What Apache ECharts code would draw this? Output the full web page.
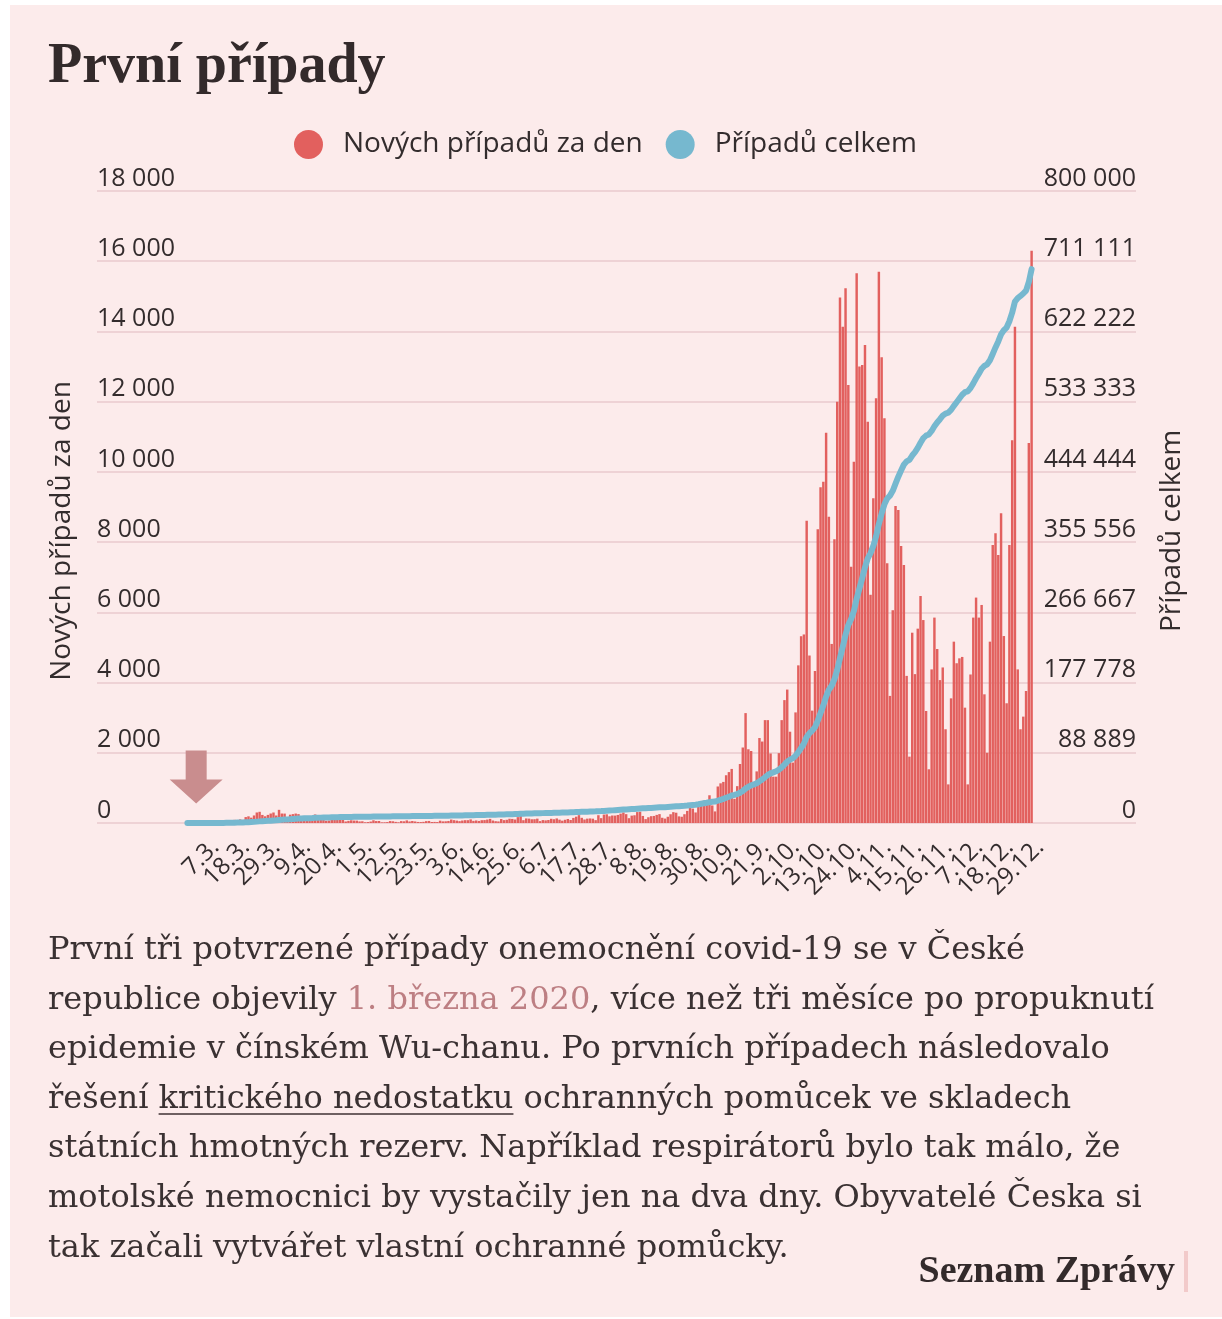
<!DOCTYPE html>
<html>
<head>
<meta charset="utf-8">
<script src="https://cdn.jsdelivr.net/npm/echarts/dist/echarts.min.js"></script>
<style>
html,body{margin:0;padding:0;background:#ffffff;width:1222px;height:1319px;overflow:hidden}
#panel{position:absolute;left:10px;top:5px;width:1212px;height:1312px;background:#fcebeb}
#chart{position:absolute;left:0;top:0;width:1222px;height:1319px}
#title{position:absolute;left:48px;top:35px;margin:0;font:bold 56px/56px "Liberation Serif";color:#332a2b;white-space:nowrap;z-index:2}
#body{position:absolute;left:48px;top:924px;font:32px/49.6px "DejaVu Serif";color:#3a3132;white-space:nowrap;z-index:2}
#body .lnk{color:#bd7f83}
#body .u{text-decoration:underline;text-decoration-thickness:2px;text-underline-offset:5px;text-decoration-color:#6e5f61}
#logo{position:absolute;right:47px;top:1250px;font:bold 38px/38px "Liberation Serif";color:#332a2b;white-space:nowrap;z-index:2}
#logobar{position:absolute;left:1184px;top:1251px;width:4px;height:41px;background:#f2caca;z-index:2}
</style>
</head>
<body>
<div id="panel"></div>
<div id="chart"></div>
<h1 id="title">První případy</h1>
<div id="body">První tři potvrzené případy onemocnění covid-19 se v České<br>republice objevily <span class="lnk">1. března 2020</span>, více než tři měsíce po propuknutí<br>epidemie v čínském Wu-chanu. Po prvních případech následovalo<br>řešení <span class="u">kritického nedostatku</span> ochranných pomůcek ve skladech<br>státních hmotných rezerv. Například respirátorů bylo tak málo, že<br>motolské nemocnici by vystačily jen na dva dny. Obyvatelé Česka si<br>tak začali vytvářet vlastní ochranné pomůcky.</div>
<div id="logo">Seznam Zprávy</div>
<div id="logobar"></div>
<script>
// ---- data ----
const startDate = [2020, 1, 29];          // 29. 2. 2020 (first category)
const dayCount = 305;                      // through 29. 12. 2020
const seriesNames = ['Nových případů za den', 'Případů celkem'];
const leftTitle = 'Nových případů za den';
const rightTitle = 'Případů celkem';
const leftMax = 18000, leftStep = 2000;
const rightMax = 800000, rightSteps = 9;

// daily new cases
const casesMar = [0,3,0,2,0,3,7,7,6,9,23,24,22,47,38,64,86,90,83,103,88,169,190,152,215,300,319,230,191,231,270];
const casesApr = [299,214,375,270,268,155,238,253,269,253,191,150,97,150,123,243,171,112,102,64,71,103,95,100,108,89,43,61,77,69];
const casesMay = [67,45,49,21,27,41,77,55,57,18,20,26,55,49,32,20,54,49,74,44,57,44,30,27,33,53,58,28,31,27,66];
const casesJun = [46,49,58,98,81,68,53,70,80,80,102,61,72,59,80,83,97,117,71,52,45,112,82,92,121,116,99,167,260,80];
const casesJul = [130,125,106,108,124,54,83,75,86,120,107,130,95,66,92,114,85,145,180,224,148,100,124,130,123,81,222,138,240,248,191];
const casesAug = [213,211,229,267,300,252,137,210,220,311,321,201,111,163,194,201,231,253,149,126,178,249,309,293,189,178,250,345,440,410,300];
const casesSep = [500,590,640,650,790,500,330,1040,1130,1170,1360,1450,1540,690,1050,1680,2150,3130,2100,2050,1030,1470,2420,2320,2930,2930,1980,1320,1320,1990];
const casesOct = [2930,3500,3800,2600,1720,3150,4490,5320,5370,8610,4770,3200,4330,8365,9560,9720,11115,8720,5100,8080,12000,14970,14135,15230,12475,7300,10290,15655,13000,13045,13615];
const casesNov = [11430,6500,9250,12095,15700,13265,11525,7400,3620,6060,9030,8915,7890,7350,4190,1890,5420,4240,5535,6465,5780,3190,1530,4375,5850,4955,4070,4430,2670,1100];
const casesDec = [3550,5165,4550,4690,4730,3285,1100,4230,5850,6420,5850,6210,3665,2000,5165,7920,8250,7630,8820,5325,3410,7920,10900,14135,4375,2670,3030,3760,10820,16300];

const newCases = [].concat(casesMar, casesApr, casesMay, casesJun, casesJul, casesAug, casesSep, casesOct, casesNov, casesDec);

// categories (consecutive days)
const dates = [];
for (let i = 0; i < dayCount; i++) {
  const d = new Date(startDate[0], startDate[1], startDate[2] + i);
  dates.push(d.getDate() + '.' + (d.getMonth() + 1) + '.');
}
// cumulative total = running sum of the daily counts
const totalCases = [];
let run = 0;
for (const v of newCases) { run += v; totalCases.push(run); }

const firstLabelIndex = 7, labelEvery = 11;
const arrowIndex = 1; // 1. 3. 2020

function fmt(v) {
  return String(v).replace(/\B(?=(\d{3})+(?!\d))/g, ' ');
}

const textColor = '#332c2d';

// two label axes (alternate ticks) so that the tightly packed rotated labels are all drawn
function labelAxis(offsetIdx) {
  return {
    gridIndex: 1, type: 'category', data: dates, boundaryGap: true, position: 'bottom', offset: 0,
    axisLine: {show: false}, axisTick: {show: false}, splitLine: {show: false},
    axisLabel: {
      interval: function (i) {
        const k = i - firstLabelIndex;
        return k >= 0 && k % labelEvery === 0 && (k / labelEvery) % 2 === offsetIdx;
      },
      rotate: 45, fontSize: 24, color: textColor, margin: 12, verticalAlign: 'top',
      fontFamily: 'Open Sans'
    }
  };
}

const chart = echarts.init(document.getElementById('chart'), null, {renderer: 'canvas'});
chart.setOption({
  animation: false,
  backgroundColor: 'transparent',
  textStyle: {fontFamily: 'Open Sans'},
  legend: {
    data: seriesNames,
    top: 125, left: 289,
    icon: 'circle', itemWidth: 29, itemHeight: 29, itemGap: 23,
    textStyle: {fontSize: 28, color: textColor, padding: [0, 0, 0, 15], fontFamily: 'Open Sans'}
  },
  grid: [
    {left: 97, right: 86, top: 191, bottom: 496},
    {left: 186, right: 189, top: 191, bottom: 496}
  ],
  xAxis: [
    {gridIndex: 0, type: 'value', show: false, min: 0, max: 1},
    labelAxis(0),
    labelAxis(1)
  ],
  yAxis: [
    {
      gridIndex: 0, type: 'value', position: 'left', min: 0, max: leftMax, interval: leftStep,
      axisLine: {show: false}, axisTick: {show: false},
      splitLine: {lineStyle: {color: '#eed2d5', width: 2}},
      axisLabel: {inside: true, margin: 0, verticalAlign: 'bottom', padding: [0, 0, 0, 0],
        fontSize: 25, color: textColor, fontFamily: 'Open Sans', formatter: fmt}
    },
    {
      gridIndex: 0, type: 'value', position: 'right', min: 0, max: rightSteps, interval: 1,
      axisLine: {show: false}, axisTick: {show: false}, splitLine: {show: false},
      axisLabel: {inside: true, margin: 0, verticalAlign: 'bottom', padding: [0, 0, 0, 0],
        fontSize: 25, color: textColor, fontFamily: 'Open Sans',
        formatter: function (v) { return fmt(Math.round(v * rightMax / rightSteps)); }}
    },
    {gridIndex: 1, type: 'value', min: 0, max: leftMax, show: false},
    {gridIndex: 1, type: 'value', min: 0, max: rightMax, show: false}
  ],
  graphic: [
    {type: 'text', x: 62, y: 531, rotation: Math.PI / 2,
      style: {text: leftTitle, font: '28px "Open Sans"', fill: textColor, align: 'center', verticalAlign: 'middle', textAlign: 'center', textVerticalAlign: 'middle'}},
    {type: 'text', x: 1172, y: 531, rotation: Math.PI / 2,
      style: {text: rightTitle, font: '28px "Open Sans"', fill: textColor, align: 'center', verticalAlign: 'middle', textAlign: 'center', textVerticalAlign: 'middle'}}
  ],
  series: [
    {
      name: seriesNames[0], type: 'bar', xAxisIndex: 1, yAxisIndex: 2,
      data: newCases, barCategoryGap: '12%',
      itemStyle: {color: '#e2605e'},
      markPoint: {
        symbol: 'path://M16 0L37 0L37 29L53 29L26.5 53L0 29L16 29Z',
        symbolSize: [53, 53], symbolOffset: [6, -46],
        itemStyle: {color: '#c98d8e'}, label: {show: false},
        data: [{coord: [arrowIndex, 0]}]
      }
    },
    {
      name: seriesNames[1], type: 'line', xAxisIndex: 1, yAxisIndex: 3,
      data: totalCases, showSymbol: false, symbol: 'none',
      lineStyle: {width: 6, color: '#76b8cf', join: 'round', cap: 'round'},
      itemStyle: {color: '#76b8cf'}
    }
  ]
});
</script>
</body>
</html>
